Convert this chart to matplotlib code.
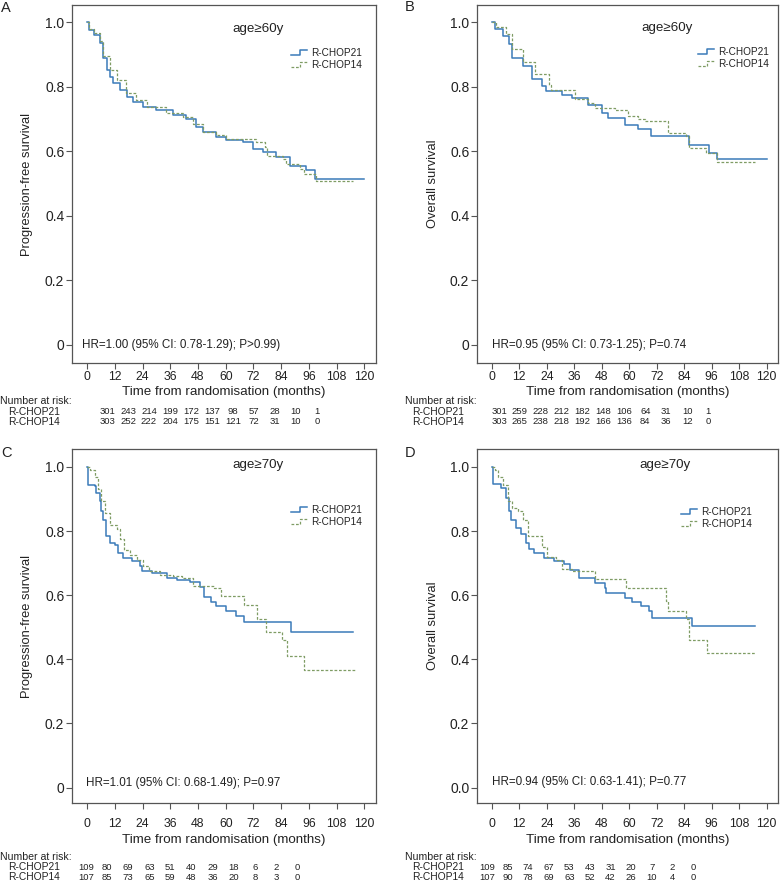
import matplotlib
matplotlib.use('Agg')
import matplotlib.pyplot as plt
from matplotlib.lines import Line2D
from matplotlib.legend_handler import HandlerBase

plt.rcParams['font.family'] = ['Liberation Sans', 'DejaVu Sans']

# ---- data ----
arms = ['R-CHOP21', 'R-CHOP14']
risk_times = [0, 12, 24, 36, 48, 60, 72, 84, 96, 108, 120]

# A: PFS, age>=60
a21_t = [0, 1, 3, 5.6, 7, 8.5, 10, 11.4, 14.2, 17.1, 20, 24.3, 30, 37, 43, 47.3, 50.2,
         56, 60.3, 67.5, 71.8, 76, 81.9, 87.6, 94.8, 98.4, 120]
a21_s = [1.0, 0.977, 0.96, 0.935, 0.889, 0.852, 0.83, 0.81, 0.79, 0.769, 0.753, 0.737,
         0.727, 0.711, 0.70, 0.675, 0.66, 0.644, 0.633, 0.628, 0.607, 0.597, 0.581,
         0.555, 0.54, 0.514, 0.514]
a14_t = [0, 1, 3, 5.6, 7, 10, 12.8, 17, 21.4, 25.8, 34, 41.6, 46, 50, 56, 60, 73, 77,
         78, 84.7, 86, 92, 94, 99, 115]
a14_s = [1.0, 0.98, 0.965, 0.94, 0.894, 0.852, 0.82, 0.78, 0.758, 0.738, 0.717, 0.706,
         0.685, 0.66, 0.649, 0.639, 0.628, 0.612, 0.586, 0.576, 0.56, 0.545, 0.529,
         0.508, 0.508]
a_risk21 = [301, 243, 214, 199, 172, 137, 98, 57, 28, 10, 1]
a_risk14 = [303, 252, 222, 204, 175, 151, 121, 72, 31, 10, 0]

# B: OS, age>=60
b21_t = [0, 1.2, 4.8, 7.6, 9, 13.4, 17.7, 22, 23.5, 30.5, 35, 42, 48, 50.9, 58, 64,
         69.6, 86, 94.8, 98.4, 120]
b21_s = [1.0, 0.979, 0.958, 0.932, 0.89, 0.865, 0.823, 0.802, 0.786, 0.775, 0.764,
         0.744, 0.719, 0.703, 0.68, 0.67, 0.646, 0.618, 0.594, 0.576, 0.576]
b14_t = [0, 1.9, 6.2, 9, 13.4, 19, 25, 26, 36.5, 42, 45, 53.7, 59.5, 64, 66.7, 76.8,
         84.7, 86, 93.4, 98.4, 115]
b14_s = [1.0, 0.984, 0.964, 0.917, 0.875, 0.839, 0.805, 0.79, 0.76, 0.75, 0.733, 0.728,
         0.708, 0.70, 0.692, 0.656, 0.646, 0.61, 0.594, 0.566, 0.566]
b_risk21 = [301, 259, 228, 212, 182, 148, 106, 64, 31, 10, 1]
b_risk14 = [303, 265, 238, 218, 192, 166, 136, 84, 36, 12, 0]

# C: PFS, age>=70
c21_t = [0, 0.4, 3.3, 4, 5.5, 6.2, 7, 8.4, 9.9, 12, 13.5, 15.7, 19.3, 22.9, 23.7, 28,
         34.5, 38.9, 44.7, 49, 50.5, 53.5, 55.7, 60, 64.3, 67.9, 88.3, 115]
c21_s = [1.0, 0.945, 0.94, 0.92, 0.893, 0.862, 0.836, 0.784, 0.764, 0.757, 0.732, 0.717,
         0.706, 0.69, 0.675, 0.669, 0.653, 0.647, 0.642, 0.626, 0.595, 0.578, 0.565,
         0.55, 0.535, 0.517, 0.484, 0.484]
c14_t = [0, 1.2, 3.3, 4.8, 6.2, 7.7, 9.9, 12.8, 14.4, 15.8, 18.6, 21.5, 24.4, 26.7, 31.6,
         37.4, 41, 46, 54.9, 57.8, 68, 73.5, 77.4, 84.2, 86.5, 94, 116]
c14_s = [1.0, 0.99, 0.97, 0.93, 0.894, 0.857, 0.82, 0.806, 0.774, 0.74, 0.725, 0.71,
         0.69, 0.674, 0.664, 0.659, 0.654, 0.628, 0.623, 0.597, 0.568, 0.527, 0.484,
         0.46, 0.412, 0.367, 0.367]
c_risk21 = [109, 80, 69, 63, 51, 40, 29, 18, 6, 2, 0]
c_risk14 = [107, 85, 73, 65, 59, 48, 36, 20, 8, 3, 0]

# D: OS, age>=70
d21_t = [0, 0.4, 4, 6.2, 7.6, 8.4, 10.6, 12.7, 14.9, 16.3, 18.5, 22.8, 27, 31.4, 34.3,
         37.9, 45, 49.4, 50, 58, 61, 65, 68.8, 70, 87.6, 115]
d21_s = [1.0, 0.947, 0.935, 0.903, 0.862, 0.836, 0.81, 0.79, 0.764, 0.743, 0.732, 0.717,
         0.706, 0.696, 0.68, 0.654, 0.638, 0.623, 0.608, 0.592, 0.58, 0.567, 0.551,
         0.53, 0.504, 0.504]
d14_t = [0, 1.2, 2.6, 4.8, 7, 9, 11.3, 13.4, 15.6, 22, 24.2, 27.8, 30.7, 35, 45, 58.8,
         76, 76.8, 84.6, 86, 94, 115]
d14_s = [1.0, 0.99, 0.97, 0.945, 0.893, 0.872, 0.862, 0.836, 0.784, 0.75, 0.72, 0.71,
         0.683, 0.674, 0.65, 0.623, 0.582, 0.55, 0.526, 0.46, 0.42, 0.42]
d_risk21 = [109, 85, 74, 67, 53, 43, 31, 20, 7, 2, 0]
d_risk14 = [107, 90, 78, 69, 63, 52, 42, 26, 10, 4, 0]

# ---- styling / layout ----
W, H = 782, 882
col21 = '#3b7bb9'
col14 = '#7f9c64'
spine_col = '#555555'
text_col = '#222222'


def fx(px):
    return px / W


def fy(py):
    return 1 - py / H


class StepHandler(HandlerBase):
    """Draw the little step glyph used in the legend."""

    def create_artists(self, legend, orig_handle, xdescent, ydescent,
                       width, height, fontsize, trans):
        x0 = -xdescent
        xm = x0 + 0.55 * width
        y0 = -ydescent + 0.1 * height
        y1 = -ydescent + 0.8 * height
        line = Line2D([x0, xm, xm, x0 + width], [y0, y0, y1, y1])
        line.update_from(orig_handle)
        line.set_transform(trans)
        return [line]


panels = [
    dict(letter='A', box=(72, 5, 376, 363), ylabel='Progression-free survival',
         title='age≥60y', s21=(a21_t, a21_s), s14=(a14_t, a14_s),
         risk=(a_risk21, a_risk14), hr='HR=1.00 (95% CI: 0.78-1.29); P>0.99)',
         ylim=(-0.057, 1.053), zero='0', title_xy=(258, 29), leg_xy=(291, 48),
         hr_xy=(82, 345), ylab_x=27, xlab_y=392, letter_xy=(1, 8),
         risk_x0=107, risk_dx=21.0, risk_lab_x=8, risk_head_x=0,
         risk_y=(401, 412, 422), xtick_pad=2),
    dict(letter='B', box=(477, 5, 778, 363), ylabel='Overall survival',
         title='age≥60y', s21=(b21_t, b21_s), s14=(b14_t, b14_s),
         risk=(b_risk21, b_risk14), hr='HR=0.95 (95% CI: 0.73-1.25); P=0.74',
         ylim=(-0.057, 1.053), zero='0', title_xy=(667, 28), leg_xy=(698, 47),
         hr_xy=(492, 345), ylab_x=433, xlab_y=392, letter_xy=(405, 7),
         risk_x0=499, risk_dx=20.9, risk_lab_x=412, risk_head_x=405,
         risk_y=(401, 412, 422), xtick_pad=2),
    dict(letter='C', box=(72, 449, 376, 803), ylabel='Progression-free survival',
         title='age≥70y', s21=(c21_t, c21_s), s14=(c14_t, c14_s),
         risk=(c_risk21, c_risk14), hr='HR=1.01 (95% CI: 0.68-1.49); P=0.97',
         ylim=(-0.048, 1.056), zero='0', title_xy=(258, 465), leg_xy=(291, 505),
         hr_xy=(86, 783), ylab_x=27, xlab_y=840, letter_xy=(1, 453),
         risk_x0=86, risk_dx=21.1, risk_lab_x=8, risk_head_x=0,
         risk_y=(857, 867, 877), xtick_pad=7),
    dict(letter='D', box=(477, 449, 778, 803), ylabel='Overall survival',
         title='age≥70y', s21=(d21_t, d21_s), s14=(d14_t, d14_s),
         risk=(d_risk21, d_risk14), hr='HR=0.94 (95% CI: 0.63-1.41); P=0.77',
         ylim=(-0.048, 1.056), zero='0.0', title_xy=(665, 465), leg_xy=(681, 507),
         hr_xy=(492, 782), ylab_x=433, xlab_y=840, letter_xy=(405, 453),
         risk_x0=487, risk_dx=20.6, risk_lab_x=412, risk_head_x=405,
         risk_y=(857, 867, 877), xtick_pad=7),
]

fig = plt.figure(figsize=(W / 100, H / 100), dpi=100)

for p in panels:
    l, t, r, b = p['box']
    ax = fig.add_axes([fx(l), fy(b), fx(r) - fx(l), (b - t) / H])

    t21, s21 = p['s21']
    t14, s14 = p['s14']
    ax.step(t21, s21, where='post', color=col21, lw=1.1, label=arms[0])
    ax.step(t14, s14, where='post', color=col14, lw=0.9,
            linestyle=(0, (2.2, 1.4)), label=arms[1])

    ax.set_xlim(-6.5, 125)
    ax.set_ylim(*p['ylim'])
    ax.set_xticks(risk_times)
    ax.set_yticks([0, 0.2, 0.4, 0.6, 0.8, 1.0])
    ax.set_yticklabels([p['zero'], '0.2', '0.4', '0.6', '0.8', '1.0'])
    ax.tick_params(axis='both', direction='out', length=4, width=0.8,
                   color=spine_col, labelcolor=text_col, labelsize=8.8)
    ax.tick_params(axis='y', pad=1.5, labelsize=10)
    ax.tick_params(axis='x', pad=p['xtick_pad'])
    for sp in ax.spines.values():
        sp.set_color(spine_col)
        sp.set_linewidth(0.9)

    # axis labels
    ax.set_xlabel('Time from randomisation (months)', fontsize=9.6, color=text_col)
    ax.xaxis.set_label_coords(0.5, (b - p['xlab_y']) / (b - t))
    ax.xaxis.label.set_verticalalignment('center')
    ax.set_ylabel(p['ylabel'], fontsize=9.3, color=text_col)
    ax.yaxis.set_label_coords((p['ylab_x'] - l) / (r - l), 0.5)
    ax.yaxis.label.set_verticalalignment('center')

    leg = ax.legend(loc='upper left', bbox_to_anchor=(fx(p['leg_xy'][0]), fy(p['leg_xy'][1])),
                    bbox_transform=fig.transFigure, frameon=False, fontsize=7.2,
                    borderpad=0, borderaxespad=0, handlelength=1.55,
                    handletextpad=0.45, labelspacing=0.2,
                    handler_map={Line2D: StepHandler()})
    for txt in leg.get_texts():
        txt.set_color(text_col)

    # annotations
    fig.text(fx(p['title_xy'][0]), fy(p['title_xy'][1]), p['title'],
             ha='center', va='center', fontsize=9.6, color=text_col)
    fig.text(fx(p['hr_xy'][0]), fy(p['hr_xy'][1]), p['hr'],
             ha='left', va='center', fontsize=8.4, color=text_col)
    fig.text(fx(p['letter_xy'][0]), fy(p['letter_xy'][1]), p['letter'],
             ha='left', va='center', fontsize=10.5, color=text_col)

    # number at risk table
    hy, y21, y14 = p['risk_y']
    fig.text(fx(p['risk_head_x']), fy(hy), 'Number at risk:',
             ha='left', va='center', fontsize=7.6, color=text_col)
    for yy, name, counts in [(y21, arms[0], p['risk'][0]), (y14, arms[1], p['risk'][1])]:
        fig.text(fx(p['risk_lab_x']), fy(yy), name,
                 ha='left', va='center', fontsize=7.4, color=text_col)
        for i, n in enumerate(counts):
            fig.text(fx(p['risk_x0'] + i * p['risk_dx']), fy(yy), str(n),
                     ha='center', va='center', fontsize=6.8, color=text_col)

fig.savefig('out.png', dpi=100)
